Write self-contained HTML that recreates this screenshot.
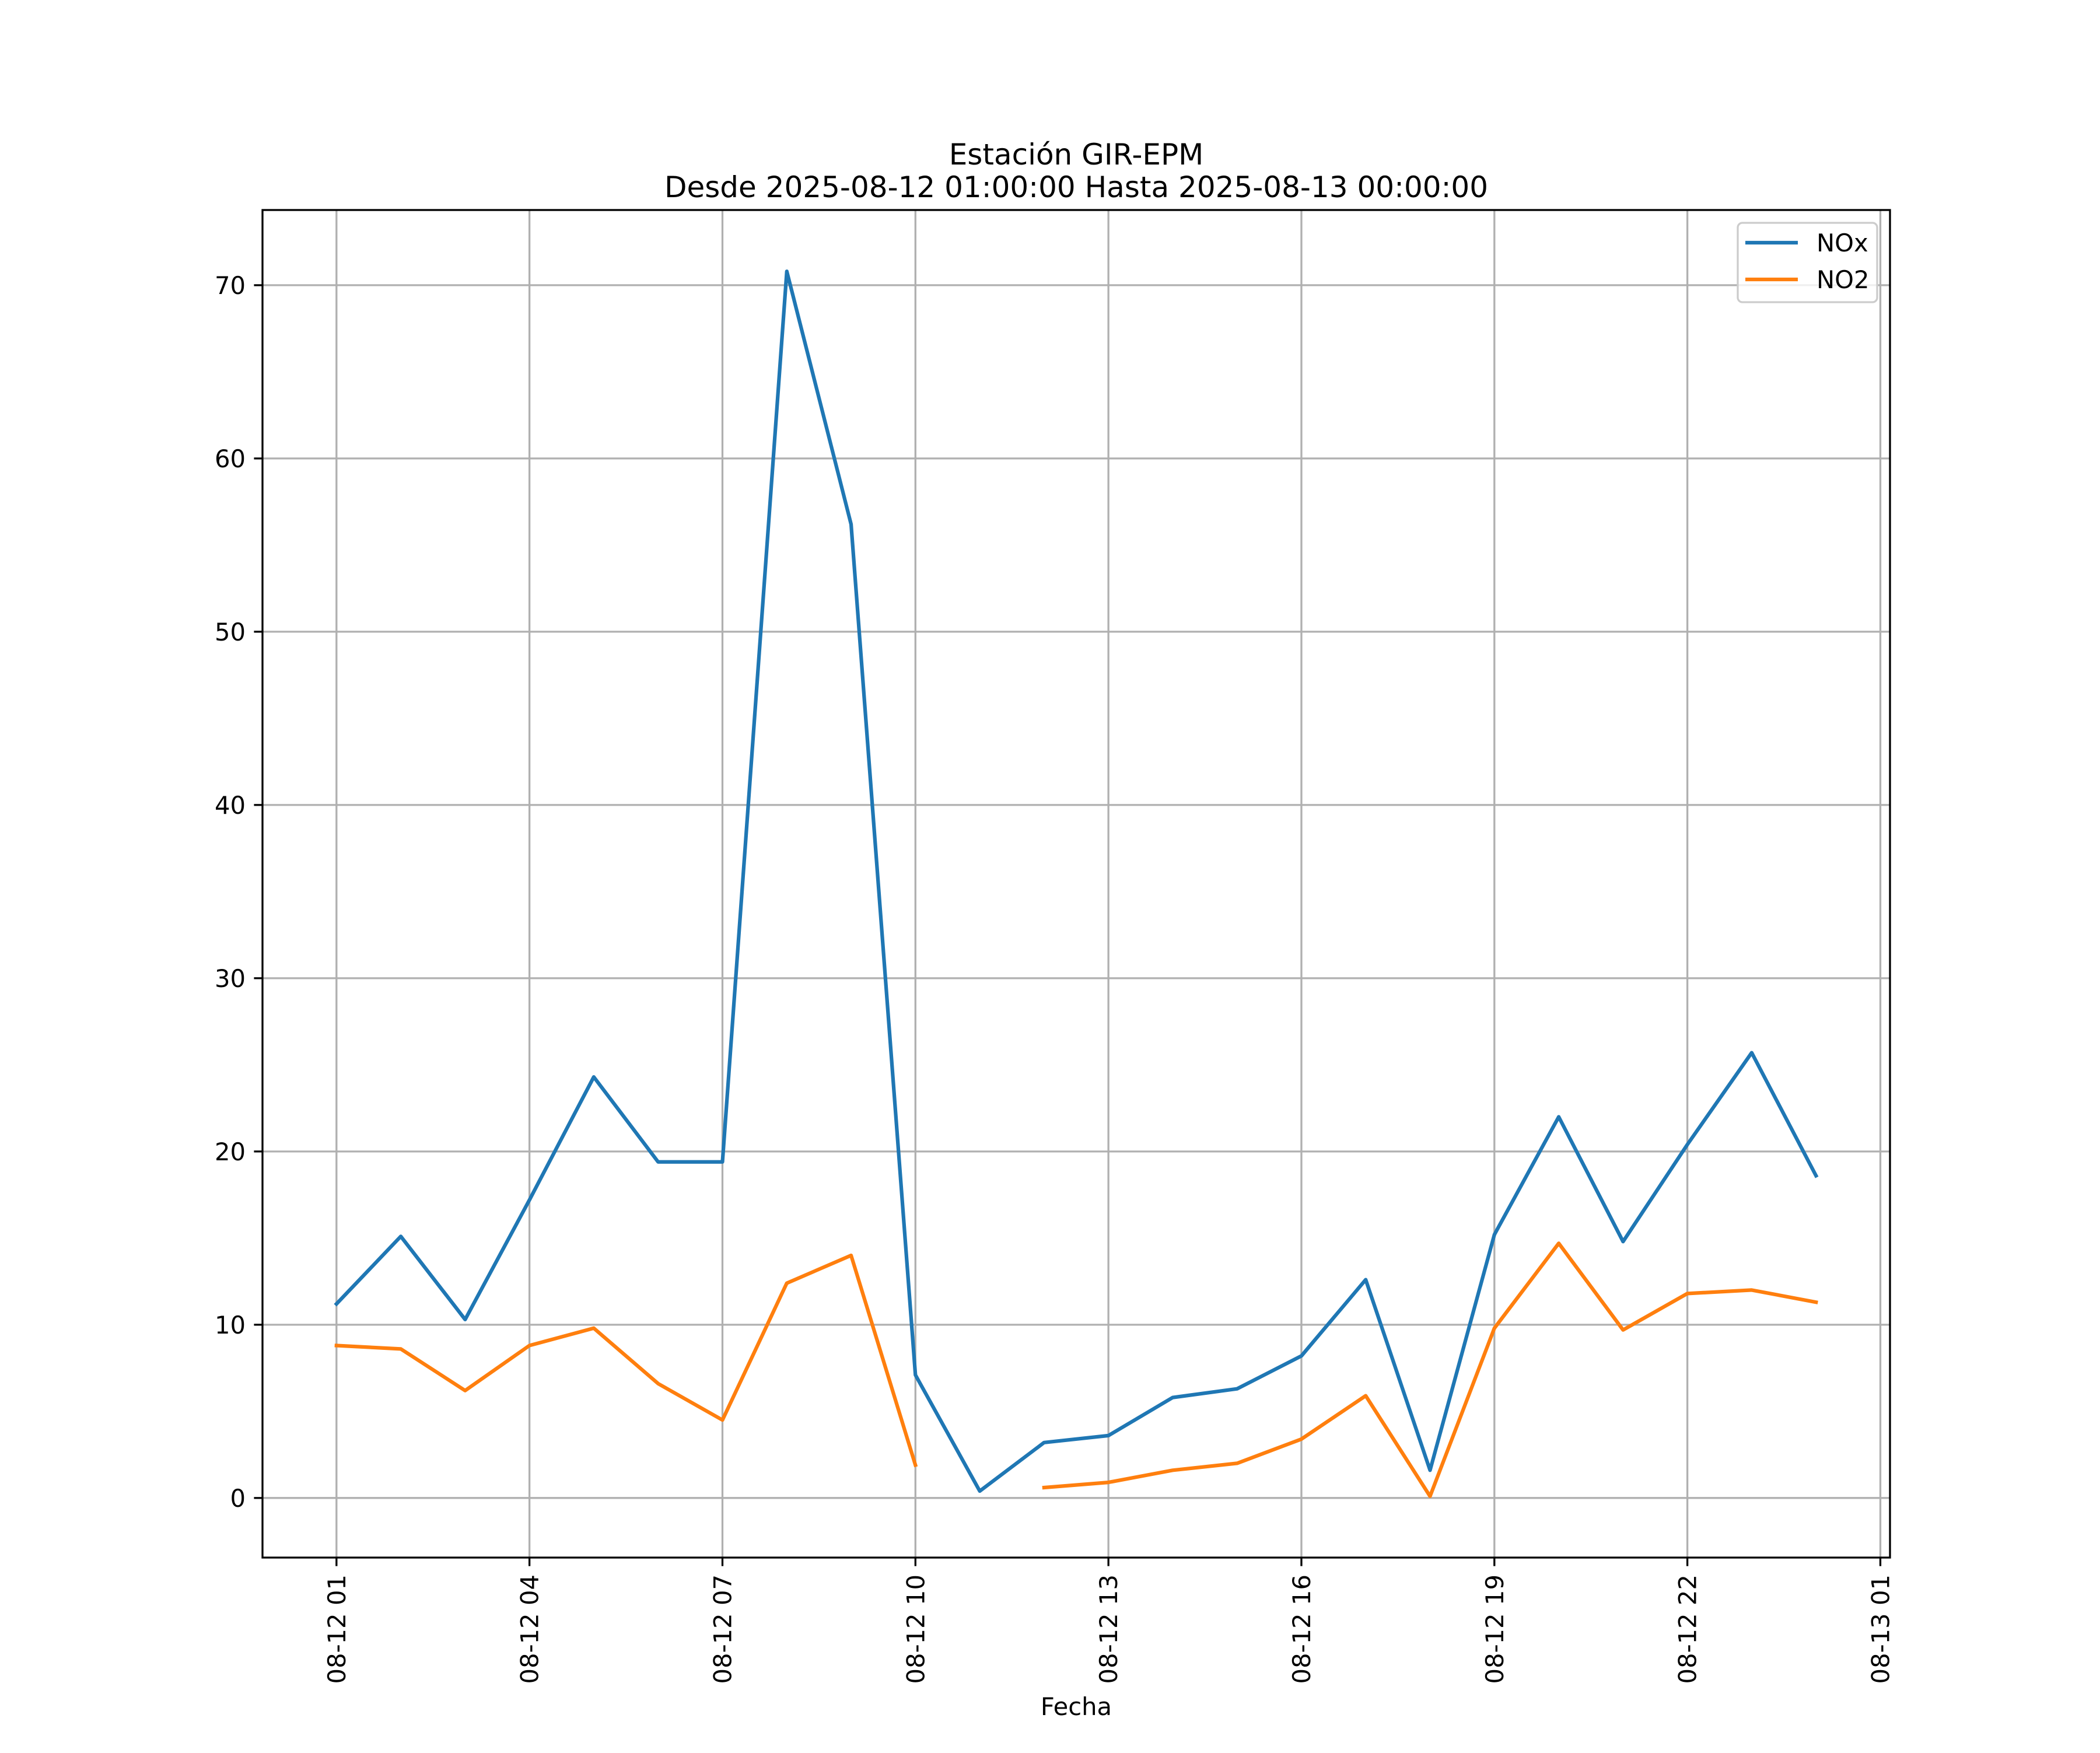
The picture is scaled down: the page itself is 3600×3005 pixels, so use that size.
<!DOCTYPE html>
<html><head><meta charset="utf-8"><style>
html,body{margin:0;padding:0;background:#fff;}
svg text{font-family:"DejaVu Sans","Liberation Sans",sans-serif;fill:#000;}
</style></head><body>
<svg id="chart" xmlns="http://www.w3.org/2000/svg" width="3600" height="3000" viewBox="0 0 3600 3000">
<rect width="3600" height="3000" fill="#fff"/>
<text x="1845" y="282" font-size="50" text-anchor="middle">Estación GIR-EPM</text>
<text x="1845" y="338" font-size="50" text-anchor="middle">Desde 2025-08-12 01:00:00 Hasta 2025-08-13 00:00:00</text>
<g id="grid"></g>
<g id="ticks"></g>
<g id="series"></g>
<rect x="450" y="360" width="2790" height="2310" fill="none" stroke="#000" stroke-width="3.3"/>
<g>
<rect x="2979" y="382" width="239" height="136" rx="8" fill="#fff" fill-opacity="0.8" stroke="#cccccc" stroke-width="3.3"/>
<line x1="2992" y1="416" x2="3082" y2="416" stroke="#1f77b4" stroke-width="6.25"/>
<text x="3114" y="431" font-size="41.7">NOx</text>
<line x1="2992" y1="479" x2="3082" y2="479" stroke="#ff7f0e" stroke-width="6.25"/>
<text x="3114" y="494" font-size="41.7">NO2</text>
</g>
<text x="1845" y="2940" font-size="41.7" text-anchor="middle">Fecha</text>
</svg>
<script>
const hours = [1,2,3,4,5,6,7,8,9,10,11,12,13,14,15,16,17,18,19,20,21,22,23,24];
const noxValues = [11.2,15.1,10.3,17.2,24.3,19.4,19.4,70.8,56.2,7.1,0.4,3.2,3.6,5.8,6.3,8.2,12.6,1.6,15.2,22.0,14.8,20.4,25.7,18.6];
const no2Values = [8.8,8.6,6.2,8.8,9.8,6.6,4.5,12.4,14.0,1.9,null,0.6,0.9,1.6,2.0,3.4,5.9,0.1,9.8,14.7,9.7,11.8,12.0,11.3];
const xTickHours = [1,4,7,10,13,16,19,22,25];
const xTickLabels = ["08-12 01","08-12 04","08-12 07","08-12 10","08-12 13","08-12 16","08-12 19","08-12 22","08-13 01"];
const yTicks = [0,10,20,30,40,50,60,70];

const L=450,R=3240,T=360,B=2670;
const xMin=1-1.15,xMax=24+1.15,yMin=-3.44,yMax=74.34;
const sx=h=>L+(h-xMin)/(xMax-xMin)*(R-L);
const sy=v=>B-(v-yMin)/(yMax-yMin)*(B-T);
const NS="http://www.w3.org/2000/svg";
const grid=document.getElementById('grid'),ticks=document.getElementById('ticks'),series=document.getElementById('series');
function mk(tag,attrs,parent){const e=document.createElementNS(NS,tag);for(const k in attrs)e.setAttribute(k,attrs[k]);parent.appendChild(e);return e;}

xTickHours.forEach((h,i)=>{
  const x=sx(h);
  const g=mk('line',{x1:x,y1:T,x2:x,y2:B,stroke:'#b0b0b0','stroke-width':3.3},grid);
  
  
  const t=mk('line',{x1:x,y1:B,x2:x,y2:B+14.6,stroke:'#000','stroke-width':3.3},ticks);
  
  
  const lb=mk('text',{x:0,y:0,'font-size':41.7,'text-anchor':'end',transform:`translate(${x+15},${B+29}) rotate(-90)`},ticks);
  lb.textContent=xTickLabels[i];
  
  
});
yTicks.forEach(v=>{
  const y=sy(v);
  const g=mk('line',{x1:L,y1:y,x2:R,y2:y,stroke:'#b0b0b0','stroke-width':3.3},grid);
  
  
  const t=mk('line',{x1:L-14.6,y1:y,x2:L,y2:y,stroke:'#000','stroke-width':3.3},ticks);
  
  
  const lb=mk('text',{x:L-29,y:y+15,'font-size':41.7,'text-anchor':'end'},ticks);
  lb.textContent=String(v);
  
  
});
function drawSeries(vals,color,name){
  let d='',pen=false;
  vals.forEach((v,i)=>{
    if(v===null){pen=false;return;}
    d+=(pen?'L':'M')+sx(hours[i]).toFixed(1)+' '+sy(v).toFixed(1)+' ';
    pen=true;
  });
  const p=mk('path',{d:d,fill:'none',stroke:color,'stroke-width':6.25,'stroke-linejoin':'round','stroke-linecap':'square'},series);
  
  
}
drawSeries(noxValues,'#1f77b4','nox-line');
drawSeries(no2Values,'#ff7f0e','no2-line');
</script>
</body></html>
